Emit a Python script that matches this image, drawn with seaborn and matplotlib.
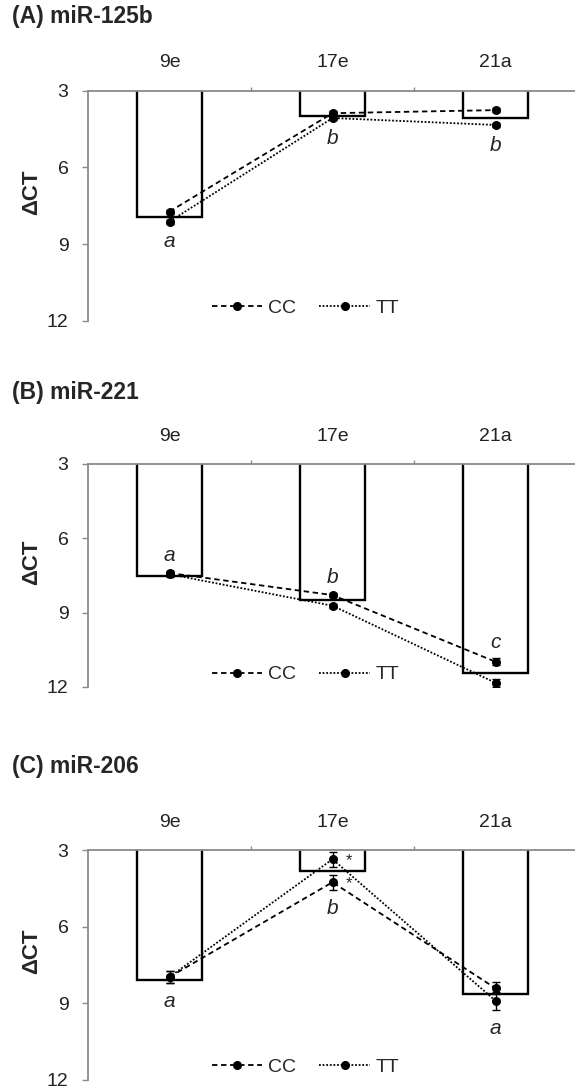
import numpy as np
import pandas as pd
import matplotlib
matplotlib.use('Agg')
import matplotlib.pyplot as plt
from matplotlib.lines import Line2D
import seaborn as sns

stages = ['9e', '17e', '21a']

# (A) miR-125b
a_bar = [7.93, 3.99, 4.08]
a_cc = [7.73, 3.88, 3.76]
a_tt = [8.12, 4.07, 4.34]
a_cc_err = [0.08, 0.08, 0.08]
a_tt_err = [0.08, 0.08, 0.08]
a_letters = ['a', 'b', 'b']
a_stars = ['', '', '']

# (B) miR-221
b_bar = [7.52, 8.49, 11.45]
b_cc = [7.40, 8.29, 10.98]
b_tt = [7.45, 8.72, 11.83]
b_cc_err = [0.1, 0.08, 0.15]
b_tt_err = [0.1, 0.08, 0.15]
b_letters = ['a', 'b', 'c']
b_stars = ['', '', '']

# (C) miR-206
c_bar = [8.09, 3.82, 8.63]
c_cc = [7.97, 4.26, 8.41]
c_tt = [7.97, 3.36, 8.90]
c_cc_err = [0.25, 0.30, 0.24]
c_tt_err = [0.25, 0.30, 0.36]
c_letters = ['a', 'b', 'a']
c_stars = ['', '*', '']

panels = [
    ('(A) miR-125b', a_bar, a_cc, a_tt, a_cc_err, a_tt_err, a_letters, a_stars, 'below'),
    ('(B) miR-221', b_bar, b_cc, b_tt, b_cc_err, b_tt_err, b_letters, b_stars, 'above'),
    ('(C) miR-206', c_bar, c_cc, c_tt, c_cc_err, c_tt_err, c_letters, c_stars, 'below'),
]

sns.set_theme(style='white')
plt.rcParams['font.family'] = ['Liberation Sans', 'DejaVu Sans']

fig = plt.figure(figsize=(5.75, 10.9), dpi=100)
W, H = 575, 1090
# axes boxes in pixels: (top of axis, bottom of axis), title y
boxes = [(90.7, 320.7, 16), (464, 687, 392), (850, 1080, 767)]
left, right = 88, 577
grey = '#8a8a8a'

for (title, bar, cc, tt, cce, tte, letters, stars, where), (top, bot, ty) in zip(panels, boxes):
    ax = fig.add_axes([left / W, 1 - bot / H, (right - left) / W, (bot - top) / H])

    sns.barplot(data=pd.DataFrame({'stage': stages, 'ct': bar}), x='stage', y='ct',
                order=stages, color='white', saturation=1, edgecolor='black',
                linewidth=1.7, width=0.4, ax=ax)

    pts = pd.DataFrame({'stage': stages * 2,
                        'genotype': ['CC'] * 3 + ['TT'] * 3,
                        'ct': cc + tt})
    sns.pointplot(data=pts, x='stage', y='ct', hue='genotype', order=stages,
                  hue_order=['CC', 'TT'], palette=['black', 'black'], markers='o',
                  linestyles=[(0, (3, 2)), (0, (1, 1))], errorbar=None, dodge=False,
                  markersize=5.5, linewidth=1.3, legend=False, ax=ax)

    xs = np.arange(len(stages))
    ax.errorbar(xs, cc, yerr=cce, fmt='none', ecolor='black', elinewidth=1, capsize=3, zorder=5)
    ax.errorbar(xs, tt, yerr=tte, fmt='none', ecolor='black', elinewidth=1, capsize=3, zorder=5)

    for i in range(len(stages)):
        if where == 'below':
            ly = max(cc[i] + cce[i], tt[i] + tte[i]) + 0.72
        else:
            ly = min(cc[i] - cce[i], tt[i] - tte[i]) - 0.62
        ax.text(xs[i], ly, letters[i], ha='center', va='center', style='italic', fontsize=15)
        if stars[i]:
            for v in (cc[i], tt[i]):
                ax.text(xs[i] + 0.1, v + 0.05, stars[i], ha='center', va='center', fontsize=12)

    ax.set_ylim(12, 3)
    ax.set_xlim(-0.5, 2.5)
    ax.set_yticks([3, 6, 9, 12])
    ax.xaxis.tick_top()
    ax.set_xticks([0.5, 1.5, 2.5], minor=True)
    ax.set_xlabel('')
    ax.tick_params(axis='x', which='major', length=0, pad=14, labelsize=14, labelcolor='#222222')
    ax.tick_params(axis='x', which='minor', top=True, bottom=False, length=3, width=1, color=grey, direction='out')
    ax.tick_params(axis='y', left=True, length=4, width=1, color=grey, direction='out', pad=10,
                   labelsize=14, labelcolor='#222222')
    for s in ['bottom', 'right']:
        ax.spines[s].set_visible(False)
    for s in ['top', 'left']:
        ax.spines[s].set_color(grey)
        ax.spines[s].set_linewidth(1.3)
    ax.set_ylabel('ΔCT', fontsize=16, fontweight='bold')
    ax.yaxis.set_label_coords(-0.094, 0.56)

    handles = [Line2D([], [], color='black', ls=(0, (3, 2)), marker='o', markersize=5.5, lw=1.3),
               Line2D([], [], color='black', ls=(0, (1, 1)), marker='o', markersize=5.5, lw=1.3)]
    ax.legend(handles, ['CC', 'TT'], loc='center', bbox_to_anchor=(0.445, 0.056), ncol=2,
              frameon=False, handlelength=2.6, columnspacing=1.2, handletextpad=0.3, fontsize=14)

    fig.text(12 / W, 1 - ty / H, title, ha='left', va='center', fontsize=16.5, fontweight='bold')

fig.savefig('out.png', dpi=100)
